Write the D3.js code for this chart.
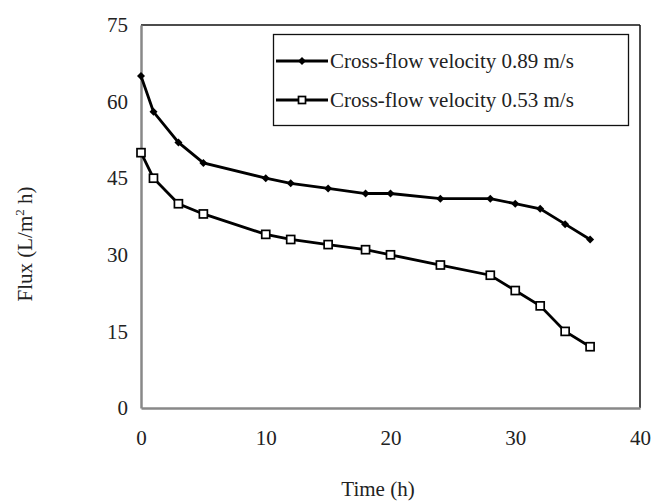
<!DOCTYPE html>
<meta charset="utf-8">
<head>
    <style>
        body { margin: 0; background: #fff; }
        text { font-family: "Liberation Serif", "Times New Roman", serif; fill: #222; }
    </style>
    <script src="https://cdn.jsdelivr.net/npm/d3@7"></script>
</head>
<body></body>
<script>

    var width = 651,
        height = 502;

    // time points (h) and the two flux series (L/m2 h)
    var times = [0, 1, 3, 5, 10, 12, 15, 18, 20, 24, 28, 30, 32, 34, 36];
    var fluxFast = [65, 58, 52, 48, 45, 44, 43, 42, 42, 41, 41, 40, 39, 36, 33];
    var fluxSlow = [50, 45, 40, 38, 34, 33, 32, 31, 30, 28, 26, 23, 20, 15, 12];
    var seriesNames = ["Cross-flow velocity 0.89 m/s", "Cross-flow velocity 0.53 m/s"];
    var xTicks = [0, 10, 20, 30, 40];
    var yTicks = [0, 15, 30, 45, 60, 75];

    var plot = {left: 141, right: 640, top: 25, bottom: 408};

    var x = d3.scaleLinear().domain([0, 40]).range([plot.left, plot.right]);
    var y = d3.scaleLinear().domain([0, 75]).range([plot.bottom, plot.top]);

    var svg = d3.select("body").append("svg")
        .attr("width", width)
        .attr("height", height);

    // plot frame: top/right black, axes grey
    svg.append("line").attr("x1", plot.left).attr("x2", plot.right)
        .attr("y1", plot.top).attr("y2", plot.top)
        .attr("stroke", "#111").attr("stroke-width", 1.5);
    svg.append("line").attr("x1", plot.right).attr("x2", plot.right)
        .attr("y1", plot.top).attr("y2", plot.bottom)
        .attr("stroke", "#111").attr("stroke-width", 1.5);

    var xAxis = svg.append("g")
        .attr("transform", "translate(0," + plot.bottom + ")")
        .call(d3.axisBottom(x).tickValues(xTicks).tickSize(0).tickPadding(22));
    var yAxis = svg.append("g")
        .attr("transform", "translate(" + plot.left + ",0)")
        .call(d3.axisLeft(y).tickValues(yTicks).tickSize(0).tickPadding(13));

    [xAxis, yAxis].forEach(function(g) {
        g.attr("font-family", null).attr("font-size", null);
        g.select(".domain").attr("stroke", "#888").attr("stroke-width", 2.5);
        g.selectAll("text")
            .attr("font-size", 21)
            .attr("fill", "#222");
    });

    //axis titles
    svg.append("text")
        .attr("x", 378).attr("y", 496)
        .attr("text-anchor", "middle")
        .attr("font-size", 21)
        .text("Time (h)");

    var ytitle = svg.append("text")
        .attr("transform", "translate(32,244) rotate(-90)")
        .attr("text-anchor", "middle")
        .attr("font-size", 21);
    ytitle.append("tspan").text("Flux (L/m");
    ytitle.append("tspan").attr("font-size", 13).attr("dy", -8).text("2");
    ytitle.append("tspan").attr("dy", 8).text(" h)");

    var line = d3.line()
        .x(function(d) { return x(d[0]); })
        .y(function(d) { return y(d[1]); });

    var fastData = times.map(function(t, i) { return [t, fluxFast[i]]; });
    var slowData = times.map(function(t, i) { return [t, fluxSlow[i]]; });

    function diamond(g, cx, cy, r) {
        g.append("path")
            .attr("d", "M" + cx + "," + (cy - r) + "L" + (cx + r) + "," + cy +
                "L" + cx + "," + (cy + r) + "L" + (cx - r) + "," + cy + "Z")
            .attr("fill", "#000");
    }

    function square(g, cx, cy, s) {
        g.append("rect")
            .attr("x", cx - s / 2).attr("y", cy - s / 2)
            .attr("width", s).attr("height", s)
            .attr("fill", "#fff").attr("stroke", "#000").attr("stroke-width", 1.7);
    }

    // series 0.53 m/s
    svg.append("path").datum(slowData)
        .attr("d", line)
        .attr("fill", "none").attr("stroke", "#000").attr("stroke-width", 2.8);
    var sq = svg.append("g");
    slowData.forEach(function(d) { square(sq, x(d[0]), y(d[1]), 8); });

    // series 0.89 m/s
    svg.append("path").datum(fastData)
        .attr("d", line)
        .attr("fill", "none").attr("stroke", "#000").attr("stroke-width", 2.8);
    var dm = svg.append("g");
    fastData.forEach(function(d) { diamond(dm, x(d[0]), y(d[1]), 4); });

    // legend
    var legend = svg.append("g");
    legend.append("rect")
        .attr("x", 273.5).attr("y", 34.5)
        .attr("width", 355).attr("height", 91)
        .attr("fill", "#fff").attr("stroke", "#111").attr("stroke-width", 1.3);

    var rows = [61, 100];
    seriesNames.forEach(function(name, i) {
        var ly = rows[i];
        legend.append("line")
            .attr("x1", 276).attr("x2", 328).attr("y1", ly).attr("y2", ly)
            .attr("stroke", "#000").attr("stroke-width", 2.8);
        if (i === 0) diamond(legend, 302, ly, 4);
        else square(legend, 302, ly, 7);
        legend.append("text")
            .attr("x", 330).attr("y", ly + 7)
            .attr("font-size", 21)
            .text(name);
    });

</script>
